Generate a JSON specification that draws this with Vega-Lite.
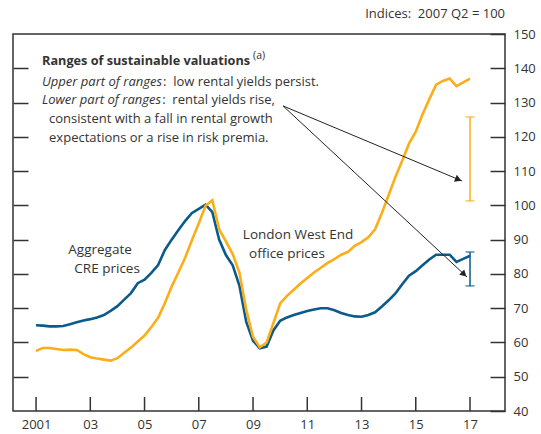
{
  "$schema": "https://vega.github.io/schema/vega-lite/v6.json",
  "width": 492,
  "height": 377,
  "autosize": {"type": "none"},
  "padding": {"left": 13, "top": 34, "right": 36, "bottom": 23},
  "background": "white",
  "title": {"text": "Indices:\u00a0 2007 Q2 = 100", "anchor": "end", "frame": "group", "fontSize": 13, "fontWeight": "normal", "color": "#333333", "offset": 7},
  "config": {
    "font": "Open Sans",
    "view": {"stroke": "#333333", "strokeWidth": 1.5},
    "axis": {"labelColor": "#333333", "labelFontSize": 13, "tickColor": "#333333", "tickWidth": 1.5, "domain": false, "grid": false, "title": null}
  },
  "datasets": {
    "cre": [
      {"year": 2001.00, "value": 65.0}, {"year": 2001.25, "value": 64.9}, {"year": 2001.50, "value": 64.7}, {"year": 2001.75, "value": 64.7},
      {"year": 2002.00, "value": 64.8}, {"year": 2002.25, "value": 65.3}, {"year": 2002.50, "value": 65.9}, {"year": 2002.75, "value": 66.4},
      {"year": 2003.00, "value": 66.8}, {"year": 2003.25, "value": 67.3}, {"year": 2003.50, "value": 68.0}, {"year": 2003.75, "value": 69.2},
      {"year": 2004.00, "value": 70.6}, {"year": 2004.25, "value": 72.5}, {"year": 2004.50, "value": 74.4}, {"year": 2004.75, "value": 77.3},
      {"year": 2005.00, "value": 78.3}, {"year": 2005.25, "value": 80.3}, {"year": 2005.50, "value": 82.6}, {"year": 2005.75, "value": 87.0},
      {"year": 2006.00, "value": 90.0}, {"year": 2006.25, "value": 92.8}, {"year": 2006.50, "value": 95.5}, {"year": 2006.75, "value": 97.8},
      {"year": 2007.00, "value": 99.0}, {"year": 2007.25, "value": 100.2}, {"year": 2007.50, "value": 98.0}, {"year": 2007.75, "value": 90.0},
      {"year": 2008.00, "value": 85.5}, {"year": 2008.25, "value": 82.5}, {"year": 2008.50, "value": 76.5}, {"year": 2008.75, "value": 66.0},
      {"year": 2009.00, "value": 60.5}, {"year": 2009.25, "value": 58.3}, {"year": 2009.50, "value": 58.8}, {"year": 2009.75, "value": 63.5},
      {"year": 2010.00, "value": 66.3}, {"year": 2010.25, "value": 67.3}, {"year": 2010.50, "value": 68.0}, {"year": 2010.75, "value": 68.6},
      {"year": 2011.00, "value": 69.2}, {"year": 2011.25, "value": 69.6}, {"year": 2011.50, "value": 70.0}, {"year": 2011.75, "value": 70.0},
      {"year": 2012.00, "value": 69.4}, {"year": 2012.25, "value": 68.6}, {"year": 2012.50, "value": 68.0}, {"year": 2012.75, "value": 67.6},
      {"year": 2013.00, "value": 67.5}, {"year": 2013.25, "value": 68.0}, {"year": 2013.50, "value": 68.8}, {"year": 2013.75, "value": 70.5},
      {"year": 2014.00, "value": 72.3}, {"year": 2014.25, "value": 74.3}, {"year": 2014.50, "value": 77.0}, {"year": 2014.75, "value": 79.5},
      {"year": 2015.00, "value": 80.8}, {"year": 2015.25, "value": 82.5}, {"year": 2015.50, "value": 84.2}, {"year": 2015.75, "value": 85.6},
      {"year": 2016.00, "value": 85.6}, {"year": 2016.25, "value": 85.6}, {"year": 2016.50, "value": 83.5}, {"year": 2016.75, "value": 84.4},
      {"year": 2017.00, "value": 85.3}
    ],
    "london": [
      {"year": 2001.00, "value": 57.5}, {"year": 2001.25, "value": 58.4}, {"year": 2001.50, "value": 58.4}, {"year": 2001.75, "value": 58.1},
      {"year": 2002.00, "value": 57.8}, {"year": 2002.25, "value": 57.9}, {"year": 2002.50, "value": 57.8}, {"year": 2002.75, "value": 56.6},
      {"year": 2003.00, "value": 55.7}, {"year": 2003.25, "value": 55.3}, {"year": 2003.50, "value": 55.0}, {"year": 2003.75, "value": 54.7},
      {"year": 2004.00, "value": 55.4}, {"year": 2004.25, "value": 57.0}, {"year": 2004.50, "value": 58.5}, {"year": 2004.75, "value": 60.3},
      {"year": 2005.00, "value": 62.0}, {"year": 2005.25, "value": 64.5}, {"year": 2005.50, "value": 67.2}, {"year": 2005.75, "value": 71.5},
      {"year": 2006.00, "value": 76.3}, {"year": 2006.25, "value": 80.5}, {"year": 2006.50, "value": 84.8}, {"year": 2006.75, "value": 89.9},
      {"year": 2007.00, "value": 94.8}, {"year": 2007.25, "value": 99.9}, {"year": 2007.50, "value": 101.5}, {"year": 2007.75, "value": 93.0},
      {"year": 2008.00, "value": 89.5}, {"year": 2008.25, "value": 85.8}, {"year": 2008.50, "value": 80.3}, {"year": 2008.75, "value": 69.5},
      {"year": 2009.00, "value": 61.6}, {"year": 2009.25, "value": 58.6}, {"year": 2009.50, "value": 60.0}, {"year": 2009.75, "value": 65.6},
      {"year": 2010.00, "value": 71.4}, {"year": 2010.25, "value": 73.6}, {"year": 2010.50, "value": 75.4}, {"year": 2010.75, "value": 77.2},
      {"year": 2011.00, "value": 78.8}, {"year": 2011.25, "value": 80.4}, {"year": 2011.50, "value": 81.8}, {"year": 2011.75, "value": 83.2},
      {"year": 2012.00, "value": 84.3}, {"year": 2012.25, "value": 85.6}, {"year": 2012.50, "value": 86.4}, {"year": 2012.75, "value": 88.2},
      {"year": 2013.00, "value": 89.3}, {"year": 2013.25, "value": 90.7}, {"year": 2013.50, "value": 93.0}, {"year": 2013.75, "value": 97.8},
      {"year": 2014.00, "value": 103.0}, {"year": 2014.25, "value": 108.3}, {"year": 2014.50, "value": 113.0}, {"year": 2014.75, "value": 118.0},
      {"year": 2015.00, "value": 121.5}, {"year": 2015.25, "value": 126.6}, {"year": 2015.50, "value": 131.0}, {"year": 2015.75, "value": 135.2},
      {"year": 2016.00, "value": 136.3}, {"year": 2016.25, "value": 137.0}, {"year": 2016.50, "value": 134.8}, {"year": 2016.75, "value": 135.9},
      {"year": 2017.00, "value": 137.0}
    ],
    "xticks": [
      {"year": 2001}, {"year": 2003}, {"year": 2005}, {"year": 2007}, {"year": 2009},
      {"year": 2011}, {"year": 2013}, {"year": 2015}, {"year": 2017}
    ],
    "ranges": [
      {"series": "London West End office prices", "year": 2017.0, "low": 101.3, "high": 125.8},
      {"series": "Aggregate CRE prices", "year": 2017.0, "low": 76.5, "high": 86.4}
    ],
    "arrows": [
      {"target": "London West End office prices", "x": 2010.11, "y": 129.0, "x2": 2016.71, "y2": 107.1, "hx": 2016.57, "hy": 107.54},
      {"target": "Aggregate CRE prices", "x": 2010.11, "y": 129.0, "x2": 2016.89, "y2": 79.1, "hx": 2016.78, "hy": 79.88}
    ],
    "notes": [
      {"kind": "bold", "x": 2001.22, "y": 142.1, "text": "Ranges of sustainable valuations"},
      {"kind": "sup", "x": 2009.0, "y": 143.6, "text": "(a)"},
      {"kind": "italic", "x": 2001.22, "y": 136.0, "text": "Upper part of ranges"},
      {"kind": "normal", "x": 2005.68, "y": 136.0, "text": ":\u00a0 low rental yields persist."},
      {"kind": "italic", "x": 2001.22, "y": 130.74, "text": "Lower part of ranges"},
      {"kind": "normal", "x": 2005.65, "y": 130.74, "text": ":\u00a0 rental yields rise,"},
      {"kind": "normal", "x": 2001.48, "y": 125.2, "text": "consistent with a fall in rental growth"},
      {"kind": "normal", "x": 2001.48, "y": 119.65, "text": "expectations or a rise in risk premia."}
    ],
    "labels": [
      {"x": 2003.36, "y": 86.97, "text": "Aggregate"},
      {"x": 2003.62, "y": 81.43, "text": "CRE prices"},
      {"x": 2010.66, "y": 91.35, "text": "London West End"},
      {"x": 2010.25, "y": 85.8, "text": "office prices"}
    ]
  },
  "resolve": {"axis": {"x": "independent", "y": "independent"}},
  "layer": [
    {
      "data": {"name": "cre"},
      "mark": {"type": "line", "color": "#0B5A8C", "strokeWidth": 2.6},
      "encoding": {
        "x": {"field": "year", "type": "quantitative", "scale": {"domain": [2000.15, 2018.29], "nice": false, "zero": false},
              "axis": {"values": [2001, 2003, 2005, 2007, 2009, 2011, 2013, 2015, 2017], "ticks": false, "labelPadding": 7, "labelExpr": "datum.value == 2001 ? '2001' : substring('' + datum.value, 2, 4)"}},
        "y": {"field": "value", "type": "quantitative", "scale": {"domain": [40, 150], "nice": false, "zero": false},
              "axis": {"orient": "left", "values": [50, 60, 70, 80, 90, 100, 110, 120, 130, 140], "tickSize": -15, "labels": false}}
      }
    },
    {
      "data": {"name": "london"},
      "mark": {"type": "line", "color": "#FBAE17", "strokeWidth": 2.6},
      "encoding": {
        "x": {"field": "year", "type": "quantitative", "axis": null},
        "y": {"field": "value", "type": "quantitative",
              "axis": {"orient": "right", "values": [40, 50, 60, 70, 80, 90, 100, 110, 120, 130, 140, 150], "tickSize": -15, "labelPadding": 23}}
      }
    },
    {
      "data": {"name": "xticks"},
      "mark": {"type": "tick", "orient": "vertical", "color": "#333333", "size": 14, "thickness": 1.5, "opacity": 1},
      "encoding": {
        "x": {"field": "year", "type": "quantitative", "axis": null},
        "y": {"datum": 42.05, "type": "quantitative", "axis": null}
      }
    },
    {
      "data": {"name": "ranges"},
      "mark": {"type": "rule", "strokeWidth": 1.5},
      "encoding": {
        "x": {"field": "year", "type": "quantitative", "axis": null},
        "y": {"field": "low", "type": "quantitative", "axis": null},
        "y2": {"field": "high"},
        "color": {"field": "series", "type": "nominal", "scale": {"domain": ["Aggregate CRE prices", "London West End office prices"], "range": ["#0B5A8C", "#FBAE17"]}, "legend": null}
      }
    },
    {
      "data": {"name": "ranges"},
      "mark": {"type": "tick", "orient": "horizontal", "size": 9, "thickness": 1.5},
      "encoding": {
        "x": {"field": "year", "type": "quantitative", "axis": null},
        "y": {"field": "low", "type": "quantitative", "axis": null},
        "color": {"field": "series", "type": "nominal", "legend": null}
      }
    },
    {
      "data": {"name": "ranges"},
      "mark": {"type": "tick", "orient": "horizontal", "size": 9, "thickness": 1.5},
      "encoding": {
        "x": {"field": "year", "type": "quantitative", "axis": null},
        "y": {"field": "high", "type": "quantitative", "axis": null},
        "color": {"field": "series", "type": "nominal", "legend": null}
      }
    },
    {
      "data": {"name": "arrows"},
      "mark": {"type": "rule", "color": "#222222", "strokeWidth": 1},
      "encoding": {
        "x": {"field": "x", "type": "quantitative", "axis": null},
        "y": {"field": "y", "type": "quantitative", "axis": null},
        "x2": {"field": "x2"},
        "y2": {"field": "y2"}
      }
    },
    {
      "data": {"name": "arrows"},
      "transform": [{"filter": "datum.target == 'London West End office prices'"}],
      "mark": {"type": "point", "shape": "triangle-right", "filled": true, "color": "#222222", "size": 55, "angle": 22.7, "opacity": 1},
      "encoding": {
        "x": {"field": "hx", "type": "quantitative", "axis": null},
        "y": {"field": "hy", "type": "quantitative", "axis": null}
      }
    },
    {
      "data": {"name": "arrows"},
      "transform": [{"filter": "datum.target == 'Aggregate CRE prices'"}],
      "mark": {"type": "point", "shape": "triangle-right", "filled": true, "color": "#222222", "size": 55, "angle": 42.9, "opacity": 1},
      "encoding": {
        "x": {"field": "hx", "type": "quantitative", "axis": null},
        "y": {"field": "hy", "type": "quantitative", "axis": null}
      }
    },
    {
      "data": {"name": "notes"},
      "transform": [{"filter": "datum.kind == 'bold'"}],
      "mark": {"type": "text", "align": "left", "baseline": "middle", "fontSize": 12.7, "fontWeight": "bold", "color": "#333333"},
      "encoding": {
        "x": {"field": "x", "type": "quantitative", "axis": null},
        "y": {"field": "y", "type": "quantitative", "axis": null},
        "text": {"field": "text"}
      }
    },
    {
      "data": {"name": "notes"},
      "transform": [{"filter": "datum.kind == 'sup'"}],
      "mark": {"type": "text", "align": "left", "baseline": "middle", "fontSize": 10.5, "color": "#333333"},
      "encoding": {
        "x": {"field": "x", "type": "quantitative", "axis": null},
        "y": {"field": "y", "type": "quantitative", "axis": null},
        "text": {"field": "text"}
      }
    },
    {
      "data": {"name": "notes"},
      "transform": [{"filter": "datum.kind == 'italic'"}],
      "mark": {"type": "text", "align": "left", "baseline": "middle", "fontSize": 13, "fontStyle": "italic", "color": "#333333"},
      "encoding": {
        "x": {"field": "x", "type": "quantitative", "axis": null},
        "y": {"field": "y", "type": "quantitative", "axis": null},
        "text": {"field": "text"}
      }
    },
    {
      "data": {"name": "notes"},
      "transform": [{"filter": "datum.kind == 'normal'"}],
      "mark": {"type": "text", "align": "left", "baseline": "middle", "fontSize": 13, "color": "#333333"},
      "encoding": {
        "x": {"field": "x", "type": "quantitative", "axis": null},
        "y": {"field": "y", "type": "quantitative", "axis": null},
        "text": {"field": "text"}
      }
    },
    {
      "data": {"name": "labels"},
      "mark": {"type": "text", "align": "center", "baseline": "middle", "fontSize": 13.5, "color": "#333333"},
      "encoding": {
        "x": {"field": "x", "type": "quantitative", "axis": null},
        "y": {"field": "y", "type": "quantitative", "axis": null},
        "text": {"field": "text"}
      }
    }
  ]
}
